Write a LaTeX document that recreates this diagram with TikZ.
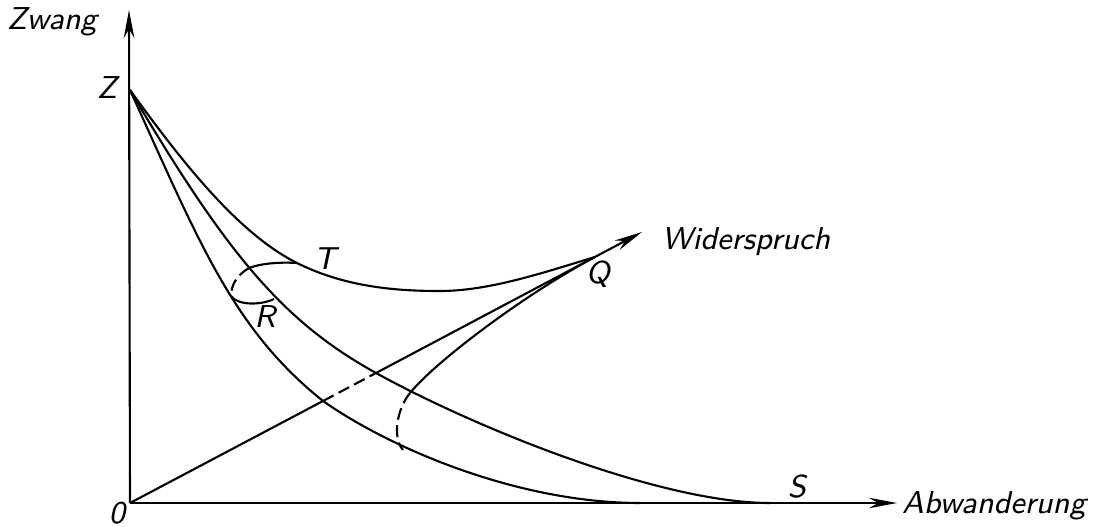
\documentclass[tikz,border=0pt]{standalone}
\usetikzlibrary{arrows.meta}

\begin{document}
\begin{tikzpicture}[x=0.01cm,y=-0.01cm,
      every node/.style={font=\fontsize{9}{11}\selectfont\sffamily\slshape,inner sep=1pt},
      curve/.style={line width=.6pt},
      hidden/.style={line width=.6pt,dash pattern=on 3.4pt off 1.6pt},
      axis/.style={line width=.6pt,-{Stealth[length=8pt,width=3pt]}}]
    \useasboundingbox (0,0) rectangle (1093,527);
    \coordinate (O) at (130,503);
    \coordinate (Z) at (130,90);
    \coordinate (Q) at (595,257);
    \coordinate (ytip) at (129,10);
    \coordinate (xtip) at (897,503);
    \coordinate (wtip) at (642,232);

    % axes
    \draw[axis] (O) -- (ytip);
    \draw[axis] (O) -- (xtip);
    \node (zwang) at (52,22) {Zwang};
    \node (abw) at (994,506) {Abwanderung};
    \node (null) at (117,513) {0};
    \node (zlab) at (107,88) {Z};

    % Widerspruch
    \coordinate (d1) at (323,401);
    \coordinate (d2) at (376,373);
    \draw[curve] (O) -- (d1);
    \draw[hidden] (d1) -- (d2);
    \draw[axis] (d2) -- (wtip);
    \node (wid) at (746,242) {Widerspruch};

    % Kurven von Z aus
    \coordinate (T) at (297,263);
    \coordinate (M) at (440,291);
    \coordinate (S) at (770,503);
    \coordinate (P) at (640,503);
    \draw[curve] (Z) .. controls (180,159) and (237,233) .. (T)
      .. controls (347,288) and (400,291) .. (M)
      .. controls (490,291) and (545,272) .. (Q);
    \draw[curve] (Z) .. controls (230,260) and (286,323) .. (d2)
      .. controls (476,428) and (660,503) .. (S);
    \draw[curve] (Z) .. controls (200,244) and (233,329) .. (d1)
      .. controls (393,450) and (520,503) .. (P);
    \node (slab) at (797,487) {S};

    % Schnitte
    \coordinate (t0) at (249,268);
    \coordinate (r0) at (231,296);
    \coordinate (r1) at (274,299);
    \draw[curve] (t0) .. controls (262,263) and (282,262) .. (T);
    \draw[hidden] (t0) .. controls (237,275) and (231,285) .. (r0);
    \draw[curve] (r0) .. controls (238,306) and (262,305) .. (r1);
    \node (tlab) at (325,259) {T};
    \node (rlab) at (265,317) {R};

    \coordinate (q1) at (410,393);
    \coordinate (q2) at (403,450);
    \draw[curve] (q1) .. controls (435,362) and (525,294) .. (Q);
    \draw[hidden] (q1) .. controls (397,409) and (392,437) .. (q2);
    \node (qlab) at (598,274) {Q};
  \end{tikzpicture}
\end{document}
